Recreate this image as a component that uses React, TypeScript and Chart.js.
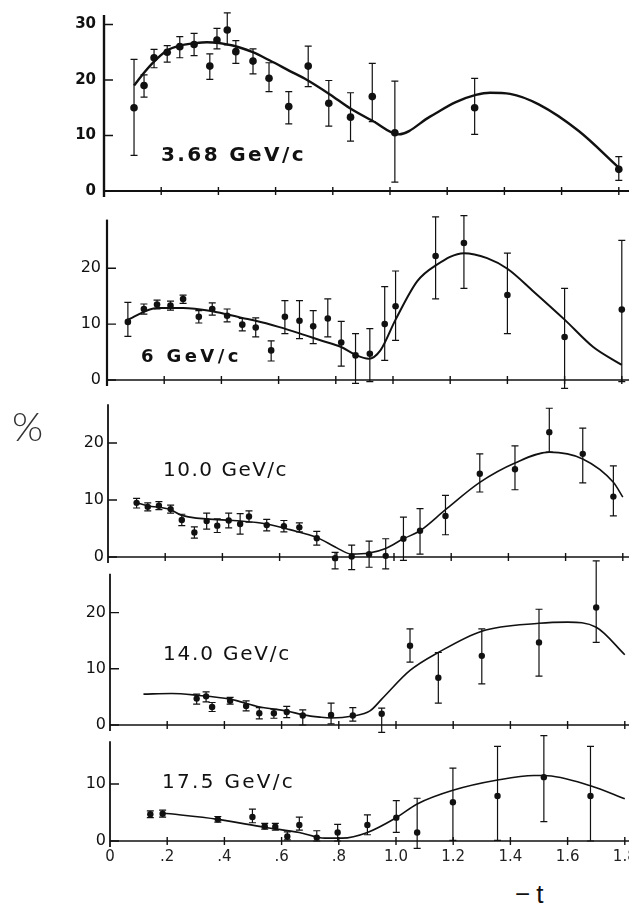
import React, { useEffect, useRef } from "react";
import { Chart, registerables } from "chart.js";

Chart.register(...registerables);

// ---------------- data ----------------
const xTickValues = [0, 0.2, 0.4, 0.6, 0.8, 1.0, 1.2, 1.4, 1.6, 1.8];
const xTickLabels = ["0", ".2", ".4", ".6", ".8", "1.0", "1.2", "1.4", "1.6", "1.8"];
const yTickValues = [0, 10, 20, 30];
const momentumLabels = ["3.68 GeV/c", "6 GeV/c", "10.0 GeV/c", "14.0 GeV/c", "17.5 GeV/c"];

// [ -t, %, lower error, upper error ]
const points368 = [
  [0.105, 15.0, 6.4, 23.7], [0.14, 19.0, 16.9, 20.9], [0.175, 24.0, 22.2, 25.5],
  [0.221, 25.0, 23.2, 26.2], [0.265, 26.0, 24.0, 27.8], [0.315, 26.4, 24.4, 28.4],
  [0.37, 22.5, 20.1, 24.7], [0.395, 27.2, 25.6, 29.3], [0.431, 29.0, 26.3, 32.1],
  [0.461, 25.1, 23.0, 27.1], [0.521, 23.4, 21.1, 25.6], [0.577, 20.3, 17.9, 23.1],
  [0.646, 15.2, 12.1, 17.9], [0.714, 22.5, 18.8, 26.1], [0.786, 15.8, 11.7, 19.9],
  [0.862, 13.3, 9.0, 17.7], [0.938, 17.0, 12.5, 23.0], [1.017, 10.5, 1.6, 19.8],
  [1.296, 15.0, 10.2, 20.3], [1.8, 3.9, 1.9, 6.2],
];
const curve368 = [
  [0.105, 19.0], [0.14, 21.3], [0.175, 23.3], [0.22, 25.3], [0.265, 26.2], [0.315, 26.6],
  [0.36, 26.8], [0.45, 26.2], [0.52, 25.0], [0.58, 23.5], [0.65, 21.6], [0.71, 20.0],
  [0.79, 17.4], [0.86, 14.9], [0.94, 12.6], [1.03, 10.2], [1.14, 13.4], [1.23, 16.0],
  [1.3, 17.3], [1.35, 17.7], [1.42, 17.5], [1.52, 15.6], [1.66, 10.8], [1.8, 4.2],
];

const points6 = [
  [0.073, 10.4, 7.8, 13.9], [0.129, 12.7, 11.8, 13.6], [0.175, 13.5, 12.7, 14.3],
  [0.222, 13.3, 12.5, 14.1], [0.266, 14.5, 13.7, 15.2], [0.321, 11.3, 10.2, 12.4],
  [0.368, 12.7, 11.6, 13.8], [0.42, 11.5, 10.4, 12.7], [0.473, 9.9, 8.8, 11.0],
  [0.52, 9.4, 7.7, 11.1], [0.574, 5.3, 3.4, 7.0], [0.622, 11.3, 8.3, 14.2],
  [0.673, 10.6, 7.4, 14.2], [0.721, 9.6, 6.5, 12.4], [0.772, 11.0, 7.7, 14.5],
  [0.819, 6.7, 2.5, 10.5], [0.869, 4.4, -0.6, 8.3], [0.919, 4.7, -0.3, 9.2],
  [0.971, 10.0, 3.5, 16.7], [1.009, 13.2, 7.1, 19.5], [1.149, 22.2, 14.5, 29.2],
  [1.248, 24.5, 16.4, 29.4], [1.4, 15.2, 8.3, 22.7], [1.6, 7.7, -1.5, 16.4],
  [1.8, 12.6, -0.3, 25.0],
];
const curve6 = [
  [0.073, 10.8], [0.175, 12.9], [0.266, 12.9], [0.368, 12.3], [0.473, 11.1], [0.52, 10.6],
  [0.6, 9.5], [0.676, 8.3], [0.746, 7.1], [0.819, 5.9], [0.869, 4.5], [0.915, 3.8],
  [0.956, 5.3], [1.009, 10.8], [1.085, 17.7], [1.149, 20.5], [1.248, 22.7], [1.329, 21.8],
  [1.4, 19.9], [1.49, 15.9], [1.6, 10.8], [1.7, 5.9], [1.8, 2.7],
];

const points10 = [
  [0.1, 9.5, 8.6, 10.3], [0.139, 8.8, 8.1, 9.5], [0.178, 9.0, 8.3, 9.7],
  [0.219, 8.4, 7.7, 9.1], [0.258, 6.5, 5.5, 7.5], [0.302, 4.3, 3.3, 5.3],
  [0.345, 6.3, 4.9, 7.7], [0.382, 5.5, 4.3, 6.7], [0.422, 6.4, 5.1, 7.7],
  [0.462, 5.8, 4.0, 7.6], [0.493, 7.1, 6.1, 8.1], [0.555, 5.6, 4.6, 6.6],
  [0.615, 5.4, 4.4, 6.4], [0.669, 5.2, 4.4, 6.0], [0.73, 3.3, 2.1, 4.5],
  [0.794, -0.2, -2.1, 0.8], [0.852, 0.1, -2.2, 2.1], [0.913, 0.5, -1.8, 2.8],
  [0.971, 0.2, -2.1, 3.2], [1.033, 3.2, -0.6, 7.0], [1.091, 4.6, 0.5, 8.5],
  [1.18, 7.2, 3.9, 10.8], [1.3, 14.6, 11.4, 18.1], [1.423, 15.4, 11.8, 19.5],
  [1.543, 21.9, 18.4, 26.1], [1.66, 18.1, 13.0, 22.6], [1.767, 10.6, 7.2, 16.0],
];
const curve10 = [
  [0.1, 9.5], [0.139, 9.0], [0.219, 8.3], [0.258, 7.3], [0.438, 6.4], [0.555, 5.8],
  [0.636, 4.8], [0.732, 3.4], [0.8, 1.6], [0.852, 0.5], [0.913, 0.7], [0.971, 1.5],
  [1.033, 3.2], [1.091, 4.6], [1.18, 8.3], [1.3, 13.1], [1.423, 16.5], [1.543, 18.4],
  [1.66, 17.2], [1.767, 13.1], [1.8, 10.5],
];

const points14 = [
  [0.303, 4.7, 3.7, 5.5], [0.336, 5.1, 4.1, 5.9], [0.357, 3.2, 2.4, 4.0],
  [0.42, 4.3, 3.7, 4.9], [0.476, 3.4, 2.5, 4.3], [0.522, 2.1, 1.1, 3.1],
  [0.573, 2.1, 1.2, 2.8], [0.618, 2.3, 1.3, 3.3], [0.674, 1.7, 0.0, 2.7],
  [0.773, 1.8, 0.2, 3.9], [0.849, 1.7, 0.7, 3.1], [0.95, 2.0, -1.3, 3.0],
  [1.049, 14.1, 11.2, 17.1], [1.148, 8.4, 3.9, 12.9], [1.3, 12.3, 7.3, 17.1],
  [1.5, 14.7, 8.7, 20.6], [1.7, 20.9, 14.7, 29.2],
];
const curve14 = [
  [0.117, 5.5], [0.215, 5.6], [0.303, 5.3], [0.42, 4.6], [0.525, 3.2], [0.618, 2.5],
  [0.676, 1.8], [0.734, 1.4], [0.773, 1.25], [0.849, 1.6], [0.909, 2.5], [0.95, 4.6],
  [1.049, 9.7], [1.148, 12.9], [1.3, 16.7], [1.5, 18.1], [1.6, 18.3], [1.7, 17.4],
  [1.8, 12.5],
];

const points175 = [
  [0.141, 4.7, 4.1, 5.3], [0.184, 4.8, 4.2, 5.4], [0.377, 3.8, 3.3, 4.3],
  [0.498, 4.2, 3.2, 5.6], [0.541, 2.6, 2.1, 3.1], [0.578, 2.5, 1.9, 3.1],
  [0.62, 0.8, 0.2, 1.6], [0.662, 2.8, 1.9, 4.2], [0.723, 0.6, 0.0, 1.8],
  [0.796, 1.5, 0.0, 2.9], [0.9, 2.8, 1.1, 4.6], [1.001, 4.1, 1.5, 7.1],
  [1.074, 1.5, -1.3, 7.5], [1.199, 6.8, 0.1, 12.8], [1.355, 7.9, 0.1, 16.6],
  [1.517, 11.2, 3.4, 18.5], [1.68, 7.9, 0.0, 16.6],
];
const curve175 = [
  [0.184, 4.9], [0.377, 3.8], [0.541, 2.4], [0.662, 1.5], [0.751, 0.5], [0.812, 0.5],
  [0.9, 1.5], [1.001, 4.1], [1.074, 6.5], [1.199, 8.9], [1.355, 10.7], [1.483, 11.5],
  [1.517, 11.5], [1.68, 9.7], [1.8, 7.4],
];

const panelPoints = [points368, points6, points10, points14, points175];
const panelCurves = [curve368, curve6, curve10, curve14, curve175];

// ---------------- layout ----------------
const CANVAS_W = 660;
const PX_PER_X = 286;
const PANELS = [
  { left: 104, zero: 191, ppu: 5.64, ymax: 31.7, tickSize: 15, tickWeight: "bold", tickPad: 8, curveW: 2.4, pointR: 3.8, axisW: 2.4 },
  { left: 107, zero: 380, ppu: 5.65, ymax: 28.7, tickSize: 16, tickWeight: "normal", tickPad: 6, curveW: 2.0, pointR: 3.3, axisW: 2.2 },
  { left: 108, zero: 557, ppu: 5.7, ymax: 26.8, tickSize: 16, tickWeight: "normal", tickPad: 4, curveW: 1.6, pointR: 3.2, axisW: 1.8 },
  { left: 110, zero: 725, ppu: 5.62, ymax: 26.9, tickSize: 16, tickWeight: "normal", tickPad: 4, curveW: 1.6, pointR: 3.2, axisW: 1.8 },
  { left: 110, zero: 841, ppu: 5.7, ymax: 17.5, tickSize: 16, tickWeight: "normal", tickPad: 4, curveW: 1.6, pointR: 3.2, axisW: 1.8 },
];
const LABEL_POS = [
  { left: 161, top: 144, size: 20, ls: 2.4, weight: 600 },
  { left: 141, top: 347, size: 18, ls: 3.4, weight: 600 },
  { left: 163, top: 459, size: 20, ls: 1.5, weight: 400 },
  { left: 163, top: 643, size: 20, ls: 1.8, weight: 400 },
  { left: 162, top: 771, size: 20, ls: 2.3, weight: 400 },
];

const FONT = "'DejaVu Sans', 'Liberation Sans', sans-serif";

const axesPlugin = {
  id: "paperAxes",
  beforeDatasetsDraw(chart: any) {
    const { ctx, chartArea } = chart;
    const x = chart.scales.x;
    const y = chart.scales.y;
    const opts = chart.options.plugins.paperAxes || {};
    const y0 = y.getPixelForValue(0);
    ctx.save();
    ctx.strokeStyle = "#111";
    ctx.lineCap = "butt";
    // horizontal zero line
    ctx.lineWidth = opts.baseW || 1.6;
    ctx.beginPath();
    ctx.moveTo(chartArea.left, y0);
    ctx.lineTo(chart.width, y0);
    ctx.stroke();
    // crossing x ticks
    ctx.lineWidth = 1.4;
    ctx.beginPath();
    xTickValues.forEach((v) => {
      if (v === 0) return;
      const px = x.getPixelForValue(v);
      ctx.moveTo(px, y0 - 4);
      ctx.lineTo(px, y0 + 4);
    });
    ctx.stroke();
    // inward y ticks
    ctx.lineWidth = 1.4;
    ctx.beginPath();
    yTickValues.forEach((v) => {
      if (v > y.max) return;
      const py = y.getPixelForValue(v);
      ctx.moveTo(chartArea.left, py);
      ctx.lineTo(chartArea.left + 9, py);
    });
    ctx.stroke();
    // y axis (extends slightly below zero)
    ctx.lineWidth = opts.axisW || 2;
    ctx.beginPath();
    ctx.moveTo(chartArea.left, chartArea.top);
    ctx.lineTo(chartArea.left, y0 + 6);
    ctx.stroke();
    ctx.restore();
  },
};

const errorBarPlugin = {
  id: "errorBars",
  beforeDatasetsDraw(chart: any) {
    const { ctx } = chart;
    const x = chart.scales.x;
    const y = chart.scales.y;
    ctx.save();
    ctx.strokeStyle = "#111";
    ctx.lineWidth = 1.2;
    chart.data.datasets.forEach((ds: any) => {
      if (!ds.errorBars) return;
      ds.data.forEach((p: any) => {
        const px = x.getPixelForValue(p.x);
        const lo = y.getPixelForValue(p.lo);
        const hi = y.getPixelForValue(p.hi);
        ctx.beginPath();
        ctx.moveTo(px, lo);
        ctx.lineTo(px, hi);
        ctx.moveTo(px - 3.5, lo);
        ctx.lineTo(px + 3.5, lo);
        ctx.moveTo(px - 3.5, hi);
        ctx.lineTo(px + 3.5, hi);
        ctx.stroke();
      });
    });
    ctx.restore();
  },
};

function Panel({ idx }: { idx: number }) {
  const ref = useRef<HTMLCanvasElement | null>(null);
  const P = PANELS[idx];
  const isLast = idx === PANELS.length - 1;
  const chartTop = P.zero - P.ymax * P.ppu;
  const canvasTop = Math.round(chartTop - 14);
  const padTop = chartTop - canvasTop;
  const axisH = isLast ? 30 : 0;
  const padBottom = isLast ? 0 : 22;
  const canvasH = Math.round(padTop + P.ymax * P.ppu + axisH + padBottom);
  const padRight = CANVAS_W - P.left - 1.8 * PX_PER_X;

  useEffect(() => {
    if (!ref.current) return;
    const pts = panelPoints[idx].map((r) => ({ x: r[0], y: r[1], lo: r[2], hi: r[3] }));
    const curve = panelCurves[idx].map((r) => ({ x: r[0], y: r[1] }));
    const chart = new Chart(ref.current, {
      type: "scatter",
      data: {
        datasets: [
          {
            label: "fit",
            data: curve,
            showLine: true,
            borderColor: "#111",
            borderWidth: P.curveW,
            pointRadius: 0,
            cubicInterpolationMode: "monotone",
            fill: false,
            clip: false,
          } as any,
          {
            label: "data",
            data: pts,
            errorBars: true,
            showLine: false,
            pointRadius: P.pointR,
            pointStyle: "circle",
            backgroundColor: "#111",
            borderColor: "#111",
            borderWidth: 0,
            clip: false,
          } as any,
        ],
      },
      options: {
        responsive: false,
        maintainAspectRatio: false,
        animation: false,
        events: [],
        layout: { padding: { top: padTop, bottom: padBottom, left: 0, right: padRight } },
        plugins: {
          legend: { display: false },
          tooltip: { enabled: false },
          paperAxes: { axisW: P.axisW, baseW: idx === 0 ? 2 : 1.6 },
        } as any,
        scales: {
          x: {
            type: "linear",
            min: 0,
            max: 1.8,
            display: isLast,
            grid: { display: false, drawTicks: false },
            border: { display: false },
            ticks: {
              stepSize: 0.2,
              autoSkip: false,
              maxRotation: 0,
              padding: 7,
              color: "#222",
              font: { family: FONT, size: 15 },
              callback: (v: any) => {
                const i = xTickValues.findIndex((t) => Math.abs(t - Number(v)) < 1e-6);
                return i >= 0 ? xTickLabels[i] : "";
              },
            },
            afterFit: (s: any) => {
              s.height = axisH;
            },
          },
          y: {
            type: "linear",
            min: 0,
            max: P.ymax,
            grid: { display: false, drawTicks: false },
            border: { display: false },
            ticks: {
              stepSize: 10,
              includeBounds: false,
              padding: P.tickPad,
              color: "#111",
              font: { family: FONT, size: P.tickSize, weight: P.tickWeight as any },
            },
            afterFit: (s: any) => {
              s.width = P.left;
            },
          },
        },
      },
      plugins: [axesPlugin, errorBarPlugin],
    });
    return () => chart.destroy();
  }, [idx]);

  return (
    <canvas
      ref={ref}
      width={CANVAS_W}
      height={canvasH}
      style={{ position: "absolute", left: 0, top: canvasTop, width: CANVAS_W, height: canvasH }}
    />
  );
}

export default function App() {
  return (
    <div
      style={{
        position: "absolute",
        left: 0,
        top: 0,
        width: 629,
        height: 909,
        overflow: "hidden",
        background: "#fff",
        fontFamily: FONT,
        color: "#111",
      }}
    >
      {PANELS.map((_, i) => (
        <Panel key={i} idx={i} />
      ))}
      {momentumLabels.map((t, i) => (
        <div
          key={t}
          style={{
            position: "absolute",
            left: LABEL_POS[i].left,
            top: LABEL_POS[i].top,
            fontSize: LABEL_POS[i].size,
            lineHeight: 1,
            letterSpacing: LABEL_POS[i].ls,
            fontWeight: LABEL_POS[i].weight,
            whiteSpace: "nowrap",
          }}
        >
          {t}
        </div>
      ))}
      <div
        style={{
          position: "absolute",
          left: 12,
          top: 406,
          fontSize: 40,
          lineHeight: 1,
          fontFamily: "Lato, 'Liberation Sans', sans-serif",
          fontWeight: 300,
          color: "#333",
        }}
      >
        %
      </div>
      <div
        style={{
          position: "absolute",
          left: 515,
          top: 881,
          fontSize: 26,
          lineHeight: 1,
          letterSpacing: 6,
          fontFamily: "'Liberation Sans', sans-serif",
        }}
      >
        −t
      </div>
    </div>
  );
}
